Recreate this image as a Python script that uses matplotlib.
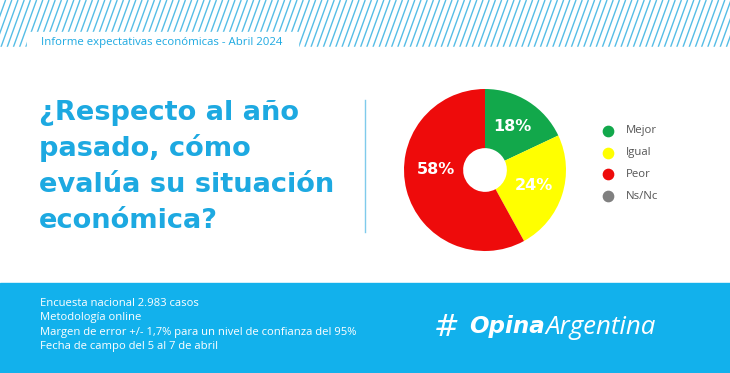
import numpy as np
import matplotlib
matplotlib.use("Agg")
import matplotlib.pyplot as plt
from matplotlib.patches import Rectangle

# datos
categorias = ["Mejor", "Igual", "Peor", "Ns/Nc"]
valores = [18, 24, 58, 0]
colores = ["#12A84B", "#FFFF00", "#EE0B0B", "#808080"]

titulo = ["¿Respecto al año", "pasado, cómo", "evalúa su situación", "económica?"]
encabezado = "Informe expectativas económicas - Abril 2024"
notas = [
    "Encuesta nacional 2.983 casos",
    "Metodología online",
    "Margen de error +/- 1,7% para un nivel de confianza del 95%",
    "Fecha de campo del 5 al 7 de abril",
]

AZUL = "#1DA9E1"
AZUL_PIE = "#12B1EC"
W, H = 730, 373

fig = plt.figure(figsize=(W / 100, H / 100), dpi=100)
fig.patch.set_facecolor("white")

# fondo en coordenadas de pixel
bg = fig.add_axes([0, 0, 1, 1])
bg.set_xlim(0, W)
bg.set_ylim(H, 0)
bg.axis("off")

# rayas diagonales arriba
for x0 in np.arange(-30, W + 30, 6.2):
    bg.plot([x0, x0 + 17], [47, 0], color="#55BDE6", lw=1.0, solid_capstyle="butt")
bg.add_patch(Rectangle((0, 47), W, 5, color="white", zorder=2))
bg.add_patch(Rectangle((27, 32), 271, 20, color="white", zorder=2))
bg.text(41, 43, encabezado, color=AZUL, fontsize=8.2, family="Open Sans",
        va="center", ha="left", zorder=3)

# titulo
for i, linea in enumerate(titulo):
    bg.text(39, 120 + i * 36, linea, color=AZUL, fontsize=19.6, fontweight="bold",
            family="DejaVu Sans", va="baseline", ha="left")

# separador
bg.plot([365, 365], [100, 232], color="#7FCBEB", lw=1)

# banda inferior
bg.add_patch(Rectangle((0, 283), W, H - 283, color=AZUL_PIE, zorder=1))
for i, linea in enumerate(notas):
    bg.text(40, 303 + i * 14.6, linea, color="white", fontsize=8.1,
            family="Open Sans", va="center", ha="left", zorder=3)

# logo
bg.text(434, 327, "#", color="white", fontsize=22,
        style="italic", family="DejaVu Sans", va="center", ha="left", zorder=3)
t1 = bg.text(469, 327, "Opina", color="white", fontsize=16.6, fontweight="bold",
             style="italic", family="DejaVu Sans", va="center", ha="left", zorder=3)
fig.canvas.draw()
bb = t1.get_window_extent()
x_fin = bg.transData.inverted().transform((bb.x1, bb.y0))[0]
bg.text(x_fin + 1, 327, "Argentina", color="white", fontsize=18.6,
        style="italic", family="Open Sans", va="center", ha="left", zorder=3)

# leyenda
for i, (cat, col) in enumerate(zip(categorias, colores)):
    y = 131 + i * 21.7
    bg.scatter([608], [y], s=55, color=col, zorder=3)
    bg.text(626, y, cat, color="#555555", fontsize=8.2, family="Open Sans",
            va="center", ha="left")

# torta
cx, cy, r = 485, 170, 81
ax = fig.add_axes([(cx - r) / W, (H - cy - r) / H, 2 * r / W, 2 * r / H])
idx = [i for i, v in enumerate(valores) if v > 0]
wedges, textos, pcts = ax.pie(
    [valores[i] for i in idx],
    colors=[colores[i] for i in idx],
    startangle=90, counterclock=False,
    wedgeprops=dict(width=0.73, linewidth=0),
    autopct="%d%%", pctdistance=0.63,
    textprops=dict(color="white", fontsize=11.5, fontweight="bold",
                   family="DejaVu Sans"),
)
# la etiqueta grande va a la altura del centro
px, py = pcts[-1].get_position()
pcts[-1].set_position((px, 0))
ax.set_xlim(-1, 1)
ax.set_ylim(-1, 1)
ax.set_aspect("equal")

fig.savefig("out.png", dpi=100)
